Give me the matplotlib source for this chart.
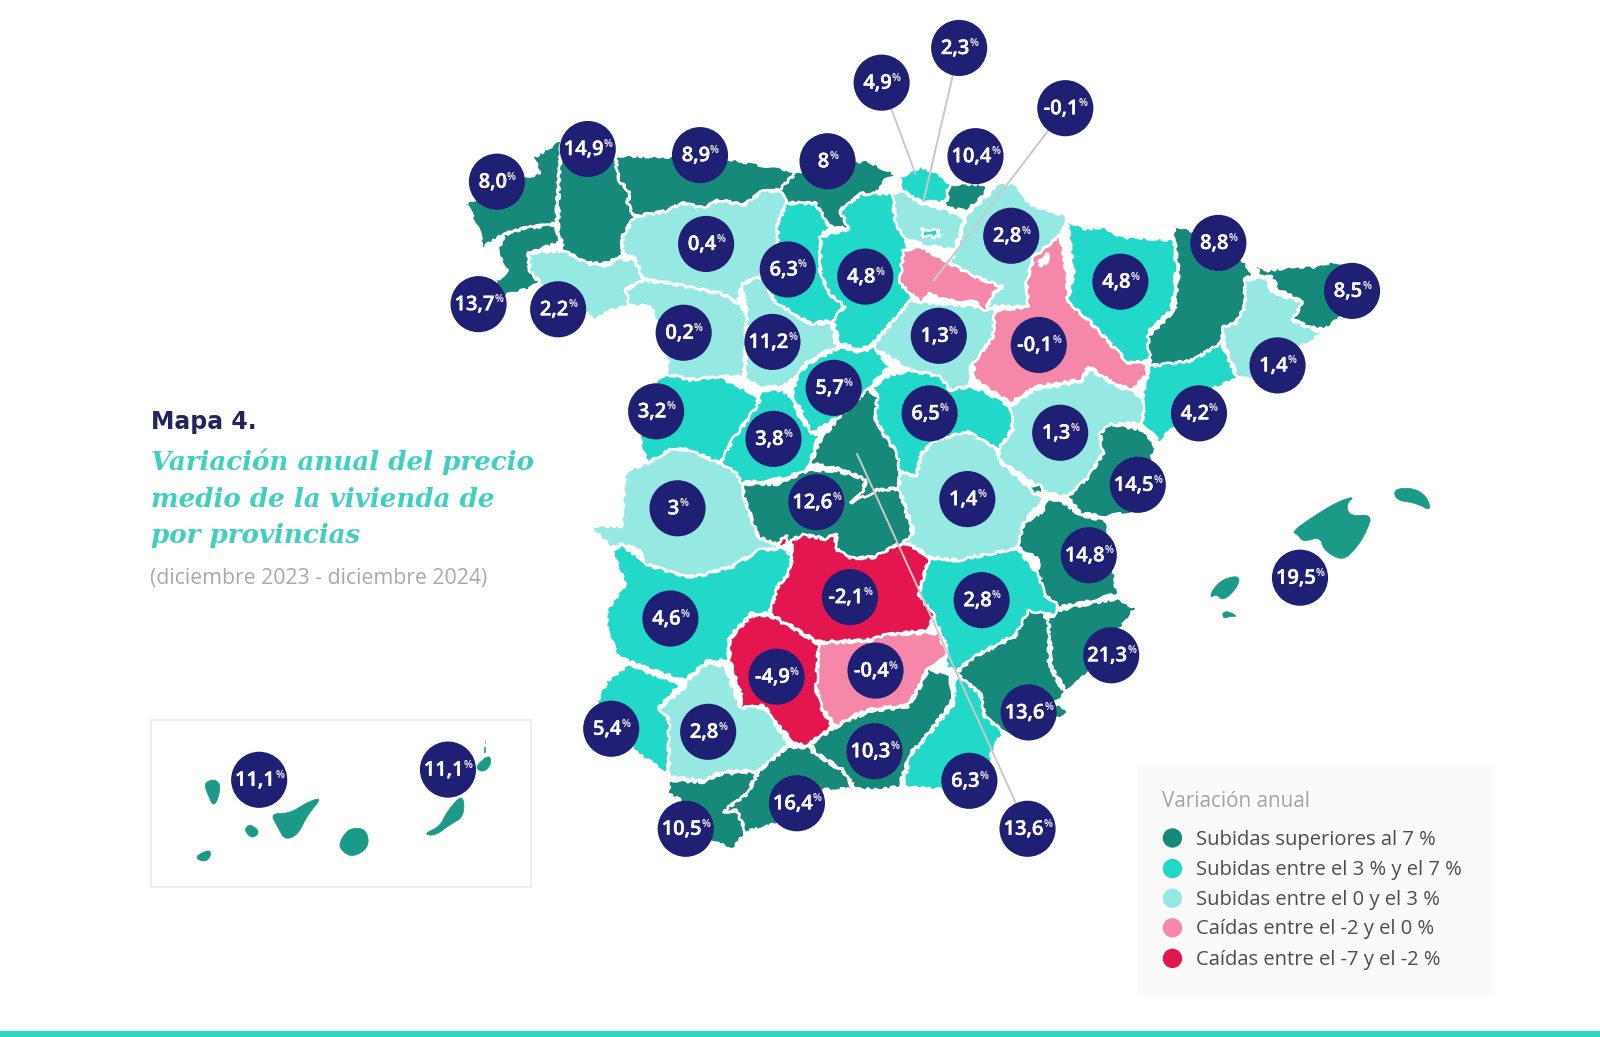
import matplotlib
matplotlib.use('Agg')
import matplotlib.pyplot as plt
import matplotlib.patheffects as pe
from matplotlib.patches import Polygon, Circle, Rectangle

# colours of the five classes
DARK = '#16897a'
TURQ = '#22d8c8'
LIGHT = '#96e9e2'
PINK = '#f587a8'
RED = '#e3164f'
NAVY = '#1f1f73'

# province outlines (x, y in a 1568 x 1016 frame)
CORUNA = [(550,137),(523,154),(529,170),(515,173),(456,199),(468,222),(473,243),(494,229),(512,224),(545,219),(548,167)]
LUGO = [(552,137),(603,154),(606,176),(617,188),(615,199),(622,212),(610,232),(610,248),(596,258),(575,258),(552,245),(547,222),(548,167)]
PONTEVEDRA = [(545,220),(548,238),(518,248),(519,265),(529,278),(515,284),(489,291),(487,274),(498,265),(487,248),(494,230),(512,224)]
OURENSE = [(518,248),(552,245),(575,258),(596,261),(603,253),(622,255),(631,274),(613,284),(617,300),(599,304),(582,314),(571,304),(533,281),(519,265)]
ASTURIAS = [(603,152),(711,155),(781,168),(764,186),(746,188),(729,201),(704,196),(690,204),(669,199),(652,207),(622,212),(615,199),(617,188),(606,176)]
CANTABRIA = [(781,168),(848,157),(879,171),(865,178),(862,188),(844,190),(823,206),(832,224),(813,222),(799,199),(771,199),(764,186)]
LEON = [(622,212),(652,207),(669,199),(690,204),(704,196),(729,201),(746,188),(764,186),(771,199),(762,219),(762,248),(748,270),(727,278),(723,297),(708,288),(659,278),(631,274),(622,253),(610,248),(610,232)]
ZAMORA = [(613,284),(631,274),(659,278),(708,288),(723,297),(732,307),(729,369),(711,369),(704,369),(676,372),(652,366),(655,356),(645,320),(638,300),(617,300)]
VALLADOLID = [(727,278),(748,270),(758,294),(781,310),(795,317),(815,317),(820,340),(792,353),(781,369),(767,379),(743,379),(730,369),(732,307)]
PALENCIA = [(771,199),(799,199),(813,222),(804,232),(804,268),(813,288),(828,300),(816,314),(795,317),(781,310),(758,294),(748,270),(762,248),(762,219)]
BURGOS = [(844,190),(879,189),(876,206),(886,229),(890,242),(885,274),(893,294),(879,310),(856,336),(844,343),(823,336),(816,314),(828,300),(813,288),(804,268),(804,232),(832,224),(823,206)]
SORIA = [(893,294),(907,296),(956,300),(976,304),(976,330),(952,359),(948,379),(931,382),(910,366),(893,363),(855,340),(879,310)]
RIOJA = [(885,245),(903,242),(931,258),(955,271),(982,281),(973,288),(966,304),(955,296),(927,294),(910,288),(903,297),(882,278)]
NAVARRA = [(997,180),(1003,193),(1012,201),(1046,212),(1039,232),(1013,252),(1006,278),(1008,301),(976,300),(966,304),(973,288),(982,281),(955,271),(931,258),(938,242),(948,209),(969,190),(976,180)]
GUIPUZCOA = [(931,180),(966,180),(966,190),(948,206),(926,204)]
VIZCAYA = [(882,173),(903,163),(920,170),(931,180),(926,198),(903,198),(889,190),(882,183)]
ALAVA = [(875,190),(882,186),(903,199),(926,205),(945,214),(941,229),(935,245),(905,240),(890,235),(878,222)]
TREVINO = [(903,224),(920,226),(920,232),(905,232)]
ZARAGOZA = [(1039,230),(1046,271),(1046,296),(1067,314),(1106,356),(1123,356),(1125,366),(1110,382),(1092,376),(1067,359),(1060,372),(1015,379),(990,395),(955,372),(954,356),(973,330),(975,304),(1008,301),(1006,278),(1013,252)]
ZARAGOZA_HOLE = [(1018,256),(1026,248),(1028,256),(1020,260)]
HUESCA = [(1046,216),(1064,224),(1081,222),(1099,232),(1151,235),(1153,265),(1148,304),(1127,323),(1130,353),(1106,356),(1067,314),(1046,296),(1052,268)]
LLEIDA = [(1150,220),(1172,227),(1218,255),(1228,268),(1220,274),(1220,300),(1211,317),(1199,320),(1197,336),(1169,353),(1136,359),(1127,356),(1125,330),(1151,304),(1155,265),(1151,238)]
GIRONA = [(1228,255),(1239,265),(1267,261),(1288,261),(1309,256),(1330,261),(1333,297),(1298,323),(1281,320),(1267,312),(1277,296),(1253,284),(1246,271),(1235,271)]
BARCELONA = [(1220,274),(1242,271),(1246,286),(1276,296),(1267,314),(1297,327),(1281,336),(1225,372),(1213,369),(1199,336),(1199,320),(1211,317),(1220,300)]
TARRAGONA = [(1197,336),(1213,371),(1186,382),(1148,421),(1136,433),(1120,415),(1120,385),(1127,359),(1169,353)]
TERUEL = [(990,398),(1015,381),(1060,374),(1067,361),(1092,377),(1110,384),(1120,389),(1120,415),(1099,415),(1078,425),(1081,444),(1067,467),(1046,487),(1026,483),(1008,470),(979,451),(978,441),(992,421)]
CASTELLON = [(1088,415),(1120,421),(1132,436),(1127,457),(1124,500),(1084,506),(1059,503),(1046,487),(1067,467),(1081,444),(1078,425)]
VALENCIA = [(1026,487),(1044,493),(1059,505),(1084,510),(1095,582),(1059,591),(1037,595),(1023,582),(1015,565),(1019,549),(997,536),(1003,513),(1023,500)]
ADEMUZ = [(1008,476),(1018,474),(1023,482),(1012,484)]
ALICANTE = [(1059,593),(1095,586),(1113,596),(1099,614),(1059,667),(1044,676),(1030,653),(1030,634),(1026,608),(1037,598)]
MURCIA = [(1008,598),(1023,601),(1028,611),(1028,653),(1044,680),(1033,689),(1048,696),(1026,712),(986,719),(965,702),(961,680),(937,660),(954,644),(994,624)]
ALBACETE = [(910,546),(936,549),(997,537),(1019,565),(1023,582),(1035,591),(1034,604),(1021,600),(994,622),(954,644),(937,658),(927,653),(928,634),(921,618),(916,608),(900,582),(908,555)]
CIUDAD_REAL = [(776,529),(787,524),(809,528),(820,523),(818,537),(834,547),(856,546),(881,533),(899,537),(910,549),(900,582),(916,604),(907,618),(867,622),(852,627),(802,629),(783,618),(754,601),(762,575),(773,562),(776,546)]
CR_PIECE = [(765,528),(771,524),(770,535),(762,535)]
JAEN = [(802,630),(852,628),(867,622),(907,620),(921,621),(928,644),(910,653),(899,676),(889,691),(856,694),(834,702),(820,712),(805,693),(800,673)]
CORDOBA = [(715,626),(736,603),(754,603),(783,619),(802,631),(800,676),(805,694),(816,712),(791,730),(780,729),(758,706),(749,691),(725,694),(727,683),(715,647)]
GRANADA = [(816,714),(834,704),(856,696),(889,693),(899,678),(910,655),(932,663),(932,689),(907,722),(892,738),(881,771),(860,774),(838,773),(827,755),(800,738),(794,729)]
ALMERIA = [(937,660),(961,680),(965,702),(983,717),(972,738),(968,764),(925,774),(885,771),(892,740),(908,722),(934,691)]
MALAGA = [(744,755),(771,732),(792,732),(800,740),(827,756),(836,773),(809,774),(762,807),(731,815),(722,794),(709,795),(733,777)]
CADIZ = [(656,764),(689,766),(707,758),(742,756),(733,777),(709,795),(722,794),(731,815),(718,833),(696,823),(667,784),(655,778)]
SEVILLA = [(646,694),(671,673),(673,667),(693,650),(711,653),(725,693),(749,693),(758,707),(773,729),(744,755),(707,756),(689,765),(656,761),(655,725),(656,706)]
HUELVA = [(617,650),(631,657),(667,670),(646,693),(656,706),(655,758),(624,738),(584,689),(595,667)]
BADAJOZ = [(599,539),(609,534),(627,546),(631,552),(671,565),(686,564),(718,555),(744,539),(769,537),(776,546),(773,562),(762,575),(754,601),(736,601),(715,624),(713,647),(693,648),(671,667),(635,655),(617,648),(606,644),(595,618),(595,598),(613,572)]
CACERES = [(577,515),(609,515),(613,461),(634,454),(659,439),(676,441),(706,454),(727,461),(729,487),(743,526),(769,537),(744,539),(718,555),(686,564),(671,565),(631,552),(627,539),(609,533),(599,536)]
SALAMANCA = [(652,366),(676,372),(704,369),(739,386),(744,395),(718,431),(706,454),(676,441),(659,439),(634,454),(627,431),(638,379)]
AVILA = [(745,382),(767,382),(776,389),(785,412),(802,428),(795,451),(790,462),(760,470),(727,473),(720,462),(706,454),(718,431),(744,395)]
SEGOVIA = [(792,356),(823,340),(844,345),(856,340),(872,359),(855,376),(840,405),(816,412),(795,425),(785,402),(776,387),(781,369)]
MADRID = [(851,381),(860,389),(858,412),(870,432),(879,444),(882,462),(881,478),(860,480),(836,492),(845,483),(849,470),(825,460),(795,454),(802,434),(823,408)]
TOLEDO = [(729,474),(762,474),(791,461),(820,461),(849,470),(845,483),(834,493),(860,480),(881,479),(896,529),(881,533),(856,546),(834,547),(818,537),(820,523),(809,528),(787,524),(776,529),(769,537),(743,526),(729,487)]
GUADALAJARA = [(855,379),(872,367),(893,363),(921,369),(931,382),(948,379),(962,382),(980,392),(990,398),(992,421),(978,441),(962,431),(948,423),(917,431),(903,444),(898,467),(882,462),(879,444),(858,412),(860,389)]
CUENCA = [(903,444),(917,431),(948,423),(962,431),(978,441),(979,451),(1008,477),(1023,487),(1003,513),(997,537),(939,549),(910,546),(899,537),(885,531),(896,523),(881,479),(882,462),(898,467)]

MALLORCA = [(1266,521),(1287,506),(1310,492),(1328,486),(1319,494),(1323,506),(1345,504),(1339,521),(1330,536),(1316,550),(1297,539),(1294,526),(1277,531),(1272,524)]
MENORCA = [(1366,479),(1385,478),(1398,486),(1403,501),(1388,493),(1368,490)]
IBIZA = [(1188,578),(1199,567),(1215,564),(1213,575),(1199,589),(1192,582),(1186,586)]
FORMENTERA = [(1198,600),(1204,599),(1213,604),(1205,604),(1199,606)]
LA_PALMA = [(200,767),(211,763),(217,771),(210,792),(203,777)]
EL_HIERRO = [(190,840),(205,832),(207,838),(201,845)]
GOMERA = [(239,813),(245,807),(255,815),(247,822)]
TENERIFE = [(265,797),(284,797),(301,786),(316,781),(301,799),(292,818),(279,823),(272,810)]
GRAN_CANARIA = [(332,826),(342,811),(359,812),(362,830),(346,840),(335,834)]
FUERTEVENTURA = [(415,817),(431,810),(438,795),(454,777),(455,800),(441,808),(426,819)]
LANZAROTE = [(465,752),(479,739),(482,748),(474,757)]

# order matters, later shapes sit on top
shapes_with_border = [
    (CORUNA,DARK),(LUGO,DARK),(PONTEVEDRA,DARK),(OURENSE,LIGHT),(ASTURIAS,DARK),(CANTABRIA,DARK),
    (LEON,LIGHT),(ZAMORA,LIGHT),(VALLADOLID,LIGHT),(PALENCIA,TURQ),(BURGOS,TURQ),(SORIA,LIGHT),
    (NAVARRA,LIGHT),(RIOJA,PINK),(VIZCAYA,TURQ),(GUIPUZCOA,DARK),(ALAVA,LIGHT),(TREVINO,TURQ),
    (HUESCA,TURQ),(ZARAGOZA,PINK),(LLEIDA,DARK),(GIRONA,DARK),(BARCELONA,LIGHT),(TARRAGONA,TURQ),
    (TERUEL,LIGHT),(CASTELLON,DARK),(VALENCIA,DARK),(ALICANTE,DARK),(ALBACETE,TURQ),(MURCIA,DARK),
    (CACERES,LIGHT),(BADAJOZ,TURQ),(SALAMANCA,TURQ),(AVILA,TURQ),(SEGOVIA,TURQ),(TOLEDO,DARK),
    (MADRID,DARK),(GUADALAJARA,TURQ),(CUENCA,LIGHT),(ADEMUZ,DARK),(CIUDAD_REAL,RED),(CR_PIECE,RED),
    (JAEN,PINK),(CORDOBA,RED),(HUELVA,TURQ),(SEVILLA,LIGHT),(GRANADA,DARK),(ALMERIA,TURQ),
    (CADIZ,DARK),(MALAGA,DARK),(ZARAGOZA_HOLE,'white'),
]
ISLANDS = [MALLORCA,MENORCA,IBIZA,FORMENTERA,LA_PALMA,EL_HIERRO,GOMERA,TENERIFE,GRAN_CANARIA,FUERTEVENTURA,LANZAROTE]
ISLAND_COLOR = '#1b9a88'

# bubbles: label, x, y
bubble_labels = ['8,0','14,9','8,9','8','2,3','4,9','-0,1','10,4','2,8','8,8','4,8','8,5','0,4','6,3','4,8',
                 '13,7','2,2','0,2','11,2','1,3','-0,1','1,4','5,7','3,2','3,8','6,5','1,3','4,2','14,5','12,6',
                 '3','1,4','14,8','-2,1','2,8','4,6','-0,4','-4,9','21,3','13,6','5,4','2,8','10,3','6,3','16,4',
                 '10,5','13,6','19,5','11,1','11,1']
bubble_x = [487,576,686,811,940,864,1044,956,991,1194,1098,1325,692,772,848,
            469,547,670,757,920,1018,1252,817,643,758,911,1039,1175,1115,800,
            664,948,1067,833,962,657,858,761,1089,1008,599,694,857,950,781,
            672,1007,1274,254,439]
bubble_y = [178,146,152,158,47,81,106,153,231,238,276,285,239,264,271,
            298,303,326,335,329,338,358,380,403,430,405,424,405,475,492,
            498,489,544,585,588,606,657,663,642,698,714,717,736,765,787,
            812,812,566,764,754]

# leader lines from the bubble to its province
leader_from = [(864,81),(940,47),(1044,106),(1007,812)]
leader_to = [(897,170),(905,197),(915,275),(840,445)]

legend_labels = ['Subidas superiores al 7 %','Subidas entre el 3 % y el 7 %','Subidas entre el 0 y el 3 %',
                 'Caídas entre el -2 y el 0 %','Caídas entre el -7 y el -2 %']
legend_colors = [DARK,TURQ,LIGHT,PINK,RED]
legend_y = [821,851,880,909,939]

title_lines = ['Variación anual del precio','medio de la vivienda de','por provincias']
title_y = [451,488,524]

SANS = 'Open Sans'

def chaikin(pts, rounds=2):
    # round the corners of an outline, the islands are soft shapes
    for _ in range(rounds):
        out = []
        for i in range(len(pts)):
            a = pts[i]
            b = pts[(i + 1) % len(pts)]
            out.append((0.75*a[0] + 0.25*b[0], 0.75*a[1] + 0.25*b[1]))
            out.append((0.25*a[0] + 0.75*b[0], 0.25*a[1] + 0.75*b[1]))
        pts = out
    return pts

def draw_map(ax):
    for pts, col in shapes_with_border:
        p = Polygon(pts, closed=True, fc=col, ec='white', lw=1.8, joinstyle='round', zorder=2)
        p.set_sketch_params(scale=1.2, length=26, randomness=12)
        ax.add_patch(p)
    for pts in ISLANDS:
        ax.add_patch(Polygon(chaikin(pts), closed=True, fc=ISLAND_COLOR, ec=ISLAND_COLOR, lw=0.5, zorder=2))
    for a, b in zip(leader_from, leader_to):
        ax.plot([a[0], b[0]], [a[1], b[1]], color='#c9c9c9', lw=1.4, zorder=3)

def draw_bubbles(ax):
    heavy = [pe.withStroke(linewidth=0.3, foreground='white')]
    for lab, x, y in zip(bubble_labels, bubble_x, bubble_y):
        ax.add_patch(Circle((x, y), 27.5, fc=NAVY, ec='none', zorder=4))
        t = ax.text(x - 4, y + 1, lab, color='white', fontsize=14.5, fontweight=600, family=SANS,
                    ha='center', va='center', zorder=5, path_effects=heavy)
        ax.annotate('%', xy=(1.0, 0.5), xycoords=t, color='white', fontsize=7.5, fontweight=600, family=SANS,
                    ha='left', va='bottom', zorder=5)

def draw_texts(ax):
    ax.text(148, 413, 'Mapa 4.', color='#22245f', fontsize=17, fontweight='bold', family='DejaVu Sans', va='center')
    for line, y in zip(title_lines, title_y):
        ax.text(148, y + 1, line, color='#3fd0c0', fontsize=18.8, style='italic', fontweight='bold',
                family='DejaVu Serif', va='center')
    ax.text(147, 567, '(diciembre 2023 - diciembre 2024)', color='#a9a9a9', fontsize=15.3, family=SANS, va='center')

    # canarias box
    ax.add_patch(Rectangle((148, 705), 372, 164, fc='white', ec='#eeeeee', lw=1.6, zorder=1))
    ax.plot([475, 475], [725, 728], color='#99aabb', lw=0.6, zorder=2)
    ax.plot([475, 475], [733, 737], color=ISLAND_COLOR, lw=1.2, zorder=2)

    # legend
    ax.add_patch(Rectangle((1115, 750), 348, 226, fc='#fafafa', ec='none', zorder=1))
    ax.text(1139, 785, 'Variación anual', color='#a5a5a5', fontsize=14.9, family=SANS, va='center', zorder=2)
    for lab, col, y in zip(legend_labels, legend_colors, legend_y):
        ax.add_patch(Circle((1149, y), 9.5, fc=col, ec='none', zorder=2))
        ax.text(1172, y + 1.5, lab, color='#4d4d4d', fontsize=14.5, family=SANS, va='center', zorder=2)

    # band at the bottom of the page
    ax.add_patch(Rectangle((0, 1010), 1568, 6, fc='#2ed6c6', ec='none', zorder=1))

def main():
    fig = plt.figure(figsize=(16, 10.37), dpi=100)
    ax = fig.add_axes([0, 0, 1, 1])
    ax.set_xlim(0, 1568)
    ax.set_ylim(1016, 0)
    ax.axis('off')
    draw_map(ax)
    draw_bubbles(ax)
    draw_texts(ax)
    fig.savefig('out.png', dpi=100)

if __name__ == '__main__':
    main()
